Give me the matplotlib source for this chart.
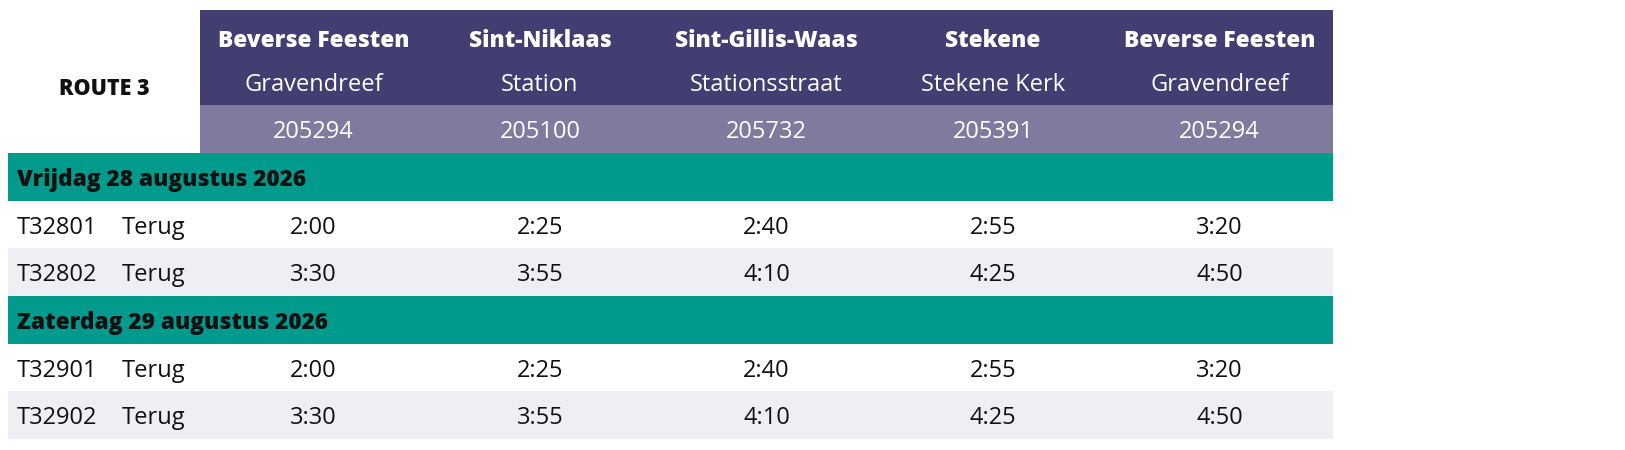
import matplotlib
matplotlib.use("Agg")
import matplotlib.pyplot as plt
from matplotlib.patches import Rectangle

# ---- data ----
route_label = "ROUTE 3"
towns = ["Beverse Feesten", "Sint-Niklaas", "Sint-Gillis-Waas", "Stekene", "Beverse Feesten"]
stops = ["Gravendreef", "Station", "Stationsstraat", "Stekene Kerk", "Gravendreef"]
codes = ["205294", "205100", "205732", "205391", "205294"]
days = ["Vrijdag 28 augustus 2026", "Zaterdag 29 augustus 2026"]
trip_ids = [["T32801", "T32802"], ["T32901", "T32902"]]
directions = [["Terug", "Terug"], ["Terug", "Terug"]]
times = [
    [["2:00", "2:25", "2:40", "2:55", "3:20"],
     ["3:30", "3:55", "4:10", "4:25", "4:50"]],
    [["2:00", "2:25", "2:40", "2:55", "3:20"],
     ["3:30", "3:55", "4:10", "4:25", "4:50"]],
]

# ---- style ----
DARK = "#433e72"
LIGHT = "#807a9f"
GREEN = "#009b8d"
GRAY = "#f0eef5"
TXT = "#111111"
FONT = ["Open Sans", "DejaVu Sans"]
FS_REG = 17
FS_BOLD = 16.3
DY = 3  # small downward text offset

W, H = 1625, 450
fig = plt.figure(figsize=(W / 100, H / 100), dpi=100)
ax = fig.add_axes([0, 0, 1, 1])
ax.set_xlim(0, W)
ax.set_ylim(H, 0)
ax.axis("off")

left = 8
hdr_x = 200
right = 1333
ncol = len(towns)
colw = (right - hdr_x) / ncol
centers = [hdr_x + colw * (i + 0.5) for i in range(ncol)]

top = 10
hdr_dark_h = 95
code_h = 48
row_h = 47.7

def rect(x0, y0, w, h, c):
    ax.add_patch(Rectangle((x0, y0), w, h, facecolor=c, edgecolor="none", lw=0))

# header
rect(hdr_x, top, right - hdr_x, hdr_dark_h, DARK)
rect(hdr_x, top + hdr_dark_h, right - hdr_x, code_h, LIGHT)
ax.text(104, 86 + DY, route_label, ha="center", va="center", fontsize=15.5,
        fontweight="heavy", family=FONT, color=TXT)
for i in range(ncol):
    ax.text(centers[i], 38 + DY, towns[i], ha="center", va="center", fontsize=FS_BOLD,
            fontweight="heavy", family=FONT, color="white")
    ax.text(centers[i], 82 + DY, stops[i], ha="center", va="center", fontsize=FS_REG,
            family=FONT, color="white")
    ax.text(centers[i], 129 + DY, codes[i], ha="center", va="center", fontsize=FS_REG,
            family=FONT, color="white")

y = top + hdr_dark_h + code_h
for d, day in enumerate(days):
    rect(left, y, right - left, row_h, GREEN)
    ax.text(17, y + row_h / 2 + DY, day, ha="left", va="center", fontsize=FS_BOLD,
            fontweight="heavy", family=FONT, color=TXT)
    y += row_h
    for r in range(len(trip_ids[d])):
        rect(left, y, right - left, row_h, "white" if r % 2 == 0 else GRAY)
        cy = y + row_h / 2 + DY
        ax.text(17, cy, trip_ids[d][r], ha="left", va="center", fontsize=FS_REG,
                family=FONT, color=TXT)
        ax.text(122, cy, directions[d][r], ha="left", va="center", fontsize=FS_REG,
                family=FONT, color=TXT)
        for i in range(ncol):
            ax.text(centers[i], cy, times[d][r][i], ha="center", va="center",
                    fontsize=FS_REG, family=FONT, color=TXT)
        y += row_h

fig.savefig("out.png", dpi=100, facecolor="white")
